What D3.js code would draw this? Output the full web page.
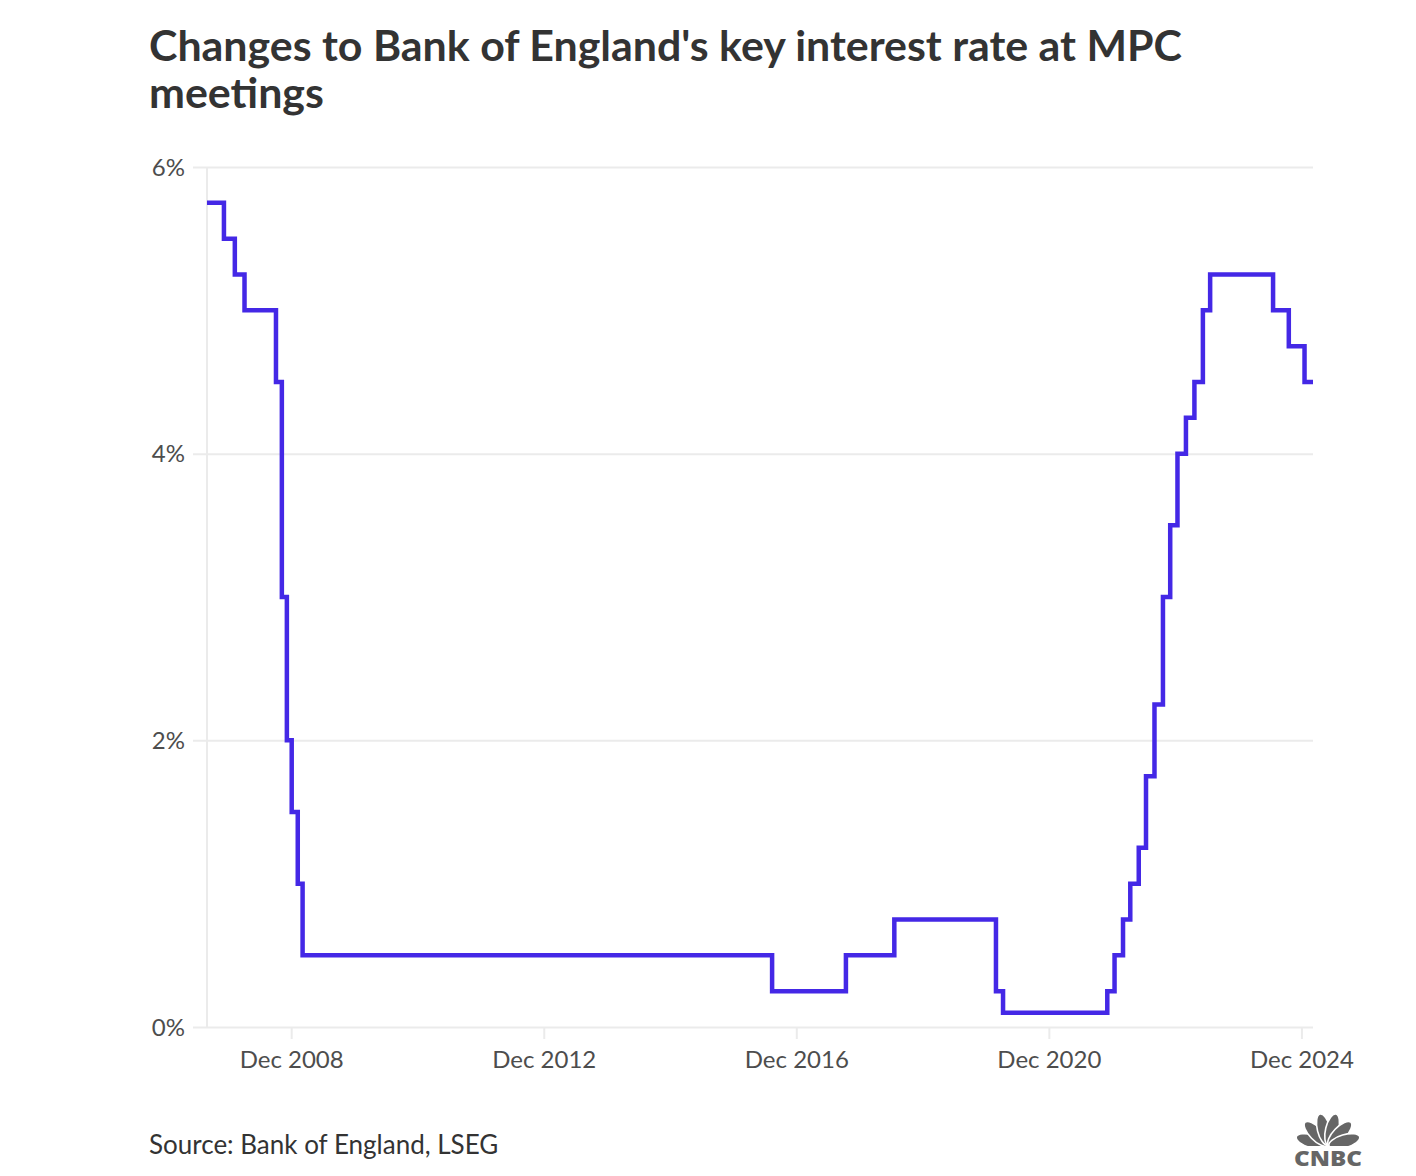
<!DOCTYPE html>
<html>
<head>
<meta charset="utf-8">
<script src="https://cdn.jsdelivr.net/npm/d3@7"></script>
<style>
  body { margin: 0; background: #fff; }
  svg { display: block; font-family: 'Lato', 'Source Sans Pro', sans-serif; }
</style>
</head>
<body>
<svg id="chart" width="1416" height="1176"></svg>
<script>
'use strict';

// MPC meeting dates and Bank Rate (%) decided at each meeting
var meetingDates = [
  '2007-08-02', '2007-11-08', '2007-12-06', '2008-01-10', '2008-02-07', '2008-03-06',
  '2008-04-10', '2008-09-04', '2008-10-08', '2008-11-06', '2008-12-04', '2009-01-08',
  '2009-02-05', '2009-03-05', '2016-07-14', '2016-08-04', '2017-09-14', '2017-11-02',
  '2018-06-21', '2018-08-02', '2020-01-30', '2020-03-11', '2020-03-19', '2021-11-04',
  '2021-12-16', '2022-02-03', '2022-03-17', '2022-05-05', '2022-06-16', '2022-08-04',
  '2022-09-22', '2022-11-03', '2022-12-15', '2023-02-02', '2023-03-23', '2023-05-11',
  '2023-06-22', '2023-08-03', '2024-06-20', '2024-08-01', '2024-09-19', '2024-11-07',
  '2024-12-19', '2025-02-06'
];
var bankRate = [
  5.75, 5.75, 5.5, 5.5, 5.25, 5.25,
  5.0, 5.0, 4.5, 3.0, 2.0, 1.5,
  1.0, 0.5, 0.5, 0.25, 0.25, 0.5,
  0.5, 0.75, 0.75, 0.25, 0.1, 0.1,
  0.25, 0.5, 0.75, 1.0, 1.25, 1.75,
  2.25, 3.0, 3.5, 4.0, 4.25, 4.5,
  5.0, 5.25, 5.25, 5.0, 5.0, 4.75,
  4.75, 4.5
];
var xTickDates = ['2008-12-01', '2012-12-01', '2016-12-01', '2020-12-01', '2024-12-01'];
var yTicks = [0, 2, 4, 6];

var titleLines = ["Changes to Bank of England's key interest rate at MPC", 'meetings'];
var sourceText = 'Source: Bank of England, LSEG';

var parseDate = d3.timeParse('%Y-%m-%d');
var data = meetingDates.map(function(d, i) { return { date: parseDate(d), rate: bankRate[i] }; });

var plotLeft = 207, plotRight = 1313, plotTop = 167, plotBottom = 1027;
var gridLeft = 193;
var labelColor = '#4d4d4d';
var svg = d3.select('#chart');

var x = d3.scaleTime()
    .domain(d3.extent(data, function(d) { return d.date; }))
    .range([plotLeft, plotRight]);
var y = d3.scaleLinear().domain([0, 6]).range([plotBottom, plotTop]);

// title
var title = svg.append('g');
titleLines.forEach(function(t, i) {
  title.append('text')
      .attr('x', 149)
      .attr('y', 61 + i * 47)
      .attr('fill', '#333')
      .attr('font-size', 38)
      .attr('font-weight', 700)
      .text(t);
});

// horizontal grid + y labels
var yAxis = d3.axisLeft(y)
    .tickValues(yTicks)
    .tickSize(plotRight - gridLeft)
    .tickFormat(function(d) { return d + '%'; });
svg.append('g')
    .attr('transform', 'translate(' + plotRight + ',0)')
    .call(yAxis)
    .call(function(g) {
      g.select('.domain').remove();
      g.selectAll('.tick line').attr('stroke', '#ebebeb').attr('stroke-width', 2);
      g.selectAll('.tick text')
          .attr('x', -(plotRight - 185))
          .attr('dy', '0.34em')
          .attr('fill', labelColor)
          .attr('font-size', 24)
          .attr('font-family', "'Lato', sans-serif");
    });

// vertical axis line
svg.append('line')
    .attr('x1', plotLeft).attr('x2', plotLeft)
    .attr('y1', plotTop).attr('y2', plotBottom)
    .attr('stroke', '#ebebeb').attr('stroke-width', 2);

// x axis
var xAxis = d3.axisBottom(x)
    .tickValues(xTickDates.map(parseDate))
    .tickSize(12)
    .tickFormat(d3.timeFormat('%b %Y'));
svg.append('g')
    .attr('transform', 'translate(0,' + plotBottom + ')')
    .call(xAxis)
    .call(function(g) {
      g.select('.domain').remove();
      g.selectAll('.tick line').attr('stroke', '#ebebeb').attr('stroke-width', 2);
      g.selectAll('.tick text')
          .attr('y', 41)
          .attr('dy', 0)
          .attr('fill', labelColor)
          .attr('font-size', 24)
          .attr('font-family', "'Lato', sans-serif");
    });

// step line
var line = d3.line()
    .x(function(d) { return x(d.date); })
    .y(function(d) { return y(d.rate); })
    .curve(d3.curveStepBefore);
svg.append('path')
    .datum(data)
    .attr('d', line)
    .attr('fill', 'none')
    .attr('stroke', '#4428e6')
    .attr('stroke-width', 4.5);

// source
svg.append('text')
    .attr('x', 149)
    .attr('y', 1154)
    .attr('fill', '#333')
    .attr('font-size', 26)
    .text(sourceText);

// CNBC logo (simplified peacock)
var logo = svg.append('g').attr('transform', 'translate(1328,1146)');
[-74, -44, -14, 14, 44, 74].forEach(function(a) {
  logo.append('ellipse')
      .attr('cx', 0).attr('cy', -17)
      .attr('rx', 6.5).attr('ry', 16)
      .attr('fill', '#666')
      .attr('stroke', '#fff')
      .attr('stroke-width', 1.6)
      .attr('transform', 'rotate(' + a + ')');
});
logo.append('rect')
    .attr('x', -30).attr('y', 0)
    .attr('width', 60).attr('height', 4)
    .attr('fill', '#fff');
logo.append('text')
    .attr('x', -34).attr('y', 20)
    .attr('font-size', 21)
    .attr('font-weight', 900)
    .attr('fill', '#666')
    .attr('font-family', "'Open Sans', sans-serif")
    .attr('textLength', 68)
    .attr('lengthAdjust', 'spacingAndGlyphs')
    .text('CNBC');

// fit title and source widths once fonts are ready
document.fonts.ready.then(function() {
  var t = title.select('text').node();
  var fs = 38 * 1033 / t.getComputedTextLength();
  title.selectAll('text').attr('font-size', fs);
});
</script>
</body>
</html>
